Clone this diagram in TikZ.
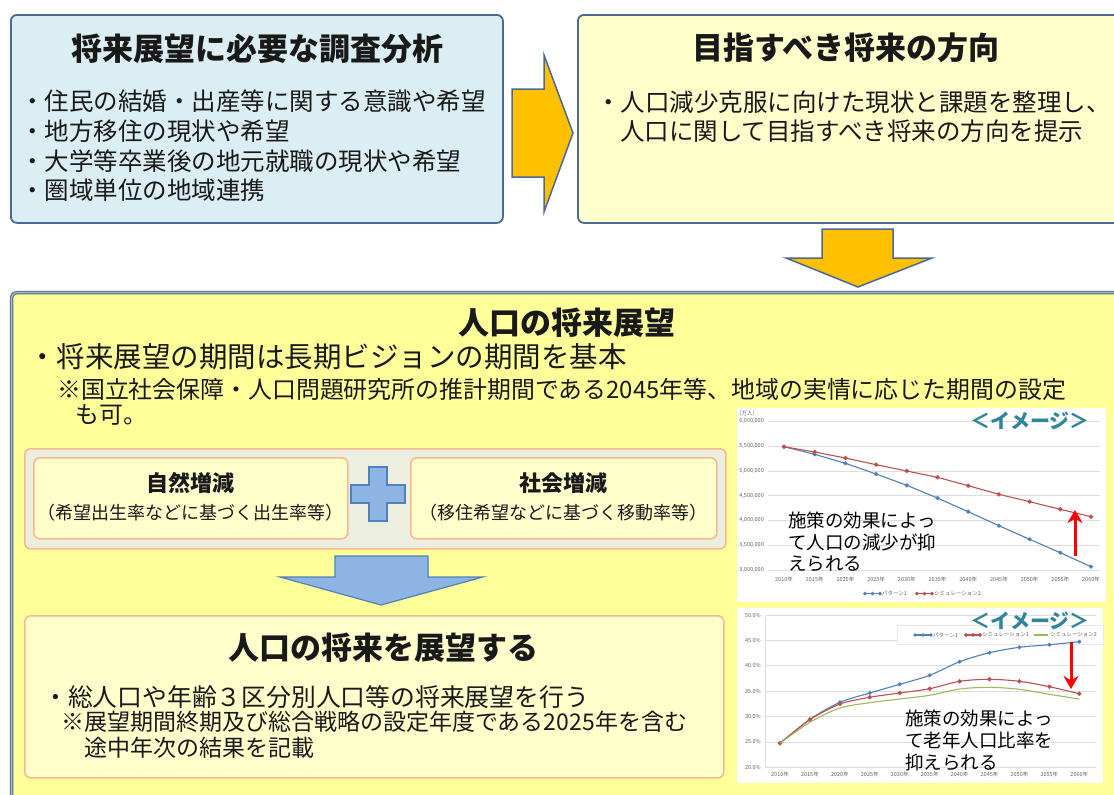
\documentclass[tikz,border=0pt]{standalone}
\usepackage{fontspec}
\setmainfont{Noto Sans CJK JP}
\usetikzlibrary{arrows.meta}
\definecolor{boxblue}{RGB}{219,238,244}
\definecolor{boxedge}{RGB}{75,105,150}
\definecolor{paleyellow}{RGB}{255,255,204}
\definecolor{bigyellow}{RGB}{255,255,153}
\definecolor{bigedge}{RGB}{100,118,148}
\definecolor{bigedgein}{RGB}{170,182,200}
\definecolor{panelgrey}{RGB}{236,238,224}
\definecolor{salmon}{RGB}{248,185,145}
\definecolor{arrowyellow}{RGB}{255,192,0}
\definecolor{plusblue}{RGB}{141,180,226}
\definecolor{plusedge}{RGB}{79,129,189}
\definecolor{teal}{RGB}{49,133,155}
\definecolor{serblue}{RGB}{79,129,189}
\definecolor{serred}{RGB}{192,80,77}
\definecolor{sergreen}{RGB}{155,187,89}
\definecolor{gridgrey}{RGB}{222,222,222}
\definecolor{labgrey}{RGB}{100,100,100}
\definecolor{txt}{RGB}{25,25,25}
\begin{document}
\begin{tikzpicture}[x=1pt,y=-1pt,
  panel/.style={draw=boxedge, line width=1.8pt, rounded corners=6pt, inner sep=0pt, anchor=north west},
  bigbox/.style={draw=bigedge, line width=1.2pt, double=bigedgein, double distance=1.2pt, fill=bigyellow, rounded corners=5pt, inner sep=0pt, anchor=north west},
  subbox/.style={draw=salmon, line width=1.6pt, rounded corners=6pt, inner sep=0pt, anchor=north west},
  title/.style={font=\fontsize{31}{36}\selectfont\bfseries, text=txt, inner sep=0pt},
  subtitle/.style={font=\fontsize{22}{26}\selectfont\bfseries, text=txt, inner sep=0pt},
  bul/.style={font=\fontsize{24.5}{29}\selectfont, text=txt, inner sep=0pt, anchor=west},
  note/.style={font=\fontsize{18}{22}\selectfont, text=txt, inner sep=0pt},
  charttext/.style={font=\fontsize{18.5}{22}\selectfont, text=black, inner sep=0pt, anchor=west},
  imagelabel/.style={font=\fontsize{20}{24}\selectfont\bfseries, text=teal, inner sep=0pt},
  tiny/.style={font=\fontsize{5.5}{6}\selectfont, text=labgrey, inner sep=0pt},
  blockarrow/.style={fill=arrowyellow, draw=boxedge, line width=1.5pt, line join=miter},
  bluearrow/.style={fill=plusblue, draw=plusedge, line width=1.2pt, line join=miter},
  grid/.style={draw=gridgrey, line width=0.6pt},
  serline/.style={line width=1.1pt},
  redarrow/.style={draw=red, line width=3pt, -{Stealth[length=13pt,width=15pt]}}
]
\clip (0,0) rectangle (1114,795);
\fill[white] (0,0) rectangle (1114,795);

% ---------- top left box ----------
\node[panel, fill=boxblue, minimum width=492pt, minimum height=208pt] (survey) at (10,14) {};
\node[title] (surveyT) at (257,49) {将来展望に必要な調査分析};
\node[bul] (s1) at (20,101) {・住民の結婚・出産等に関する意識や希望};
\node[bul] (s2) at (20,131) {・地方移住の現状や希望};
\node[bul] (s3) at (20,161) {・大学等卒業後の地元就職の現状や希望};
\node[bul] (s4) at (20,190) {・圏域単位の地域連携};

% ---------- right arrow ----------
\path[blockarrow] (512,89) -- (544,89) -- (544,55) -- (573,133) -- (544,212) -- (544,177) -- (512,177) -- cycle;

% ---------- top right box ----------
\node[panel, fill=paleyellow, minimum width=560pt, minimum height=208pt] (direction) at (577,14) {};
\node[title] (directionT) at (846,48) {目指すべき将来の方向};
\node[bul] (d1) at (596,102) {・人口減少克服に向けた現状と課題を整理し、};
\node[bul] (d2) at (620,131) {人口に関して目指すべき将来の方向を提示};

% ---------- down arrow ----------
\path[blockarrow] (822,229) -- (893,229) -- (893,258) -- (932,258) -- (858,287) -- (786,258) -- (822,258) -- cycle;

% ---------- big box ----------
\node[bigbox, minimum width=1140pt, minimum height=540pt] (outlook) at (11,292) {};
\node[title] (outlookT) at (567,323) {人口の将来展望};
\node[bul, font=\fontsize{28.5}{33}\selectfont] (o1) at (28,357) {・将来展望の期間は長期ビジョンの期間を基本};
\node[bul, font=\fontsize{23.9}{28}\selectfont] (o2) at (57,389) {※国立社会保障・人口問題研究所の推計期間である2045年等、地域の実情に応じた期間の設定};
\node[bul, font=\fontsize{23.9}{28}\selectfont] (o3) at (75,415) {も可。};

% ---------- natural / social change ----------
\node[subbox, fill=panelgrey, rounded corners=5pt, minimum width=701pt, minimum height=100pt] (change) at (24,448) {};
\node[subbox, fill=paleyellow, minimum width=314pt, minimum height=81pt] (natural) at (33,457) {};
\node[subbox, fill=paleyellow, minimum width=306pt, minimum height=81pt] (social) at (410,457) {};
\node[subtitle] (naturalT) at (190,483) {自然増減};
\node[note] (naturalN) at (190,513) {（希望出生率などに基づく出生率等）};
\node[subtitle] (socialT) at (563,483) {社会増減};
\node[note] (socialN) at (563,513) {（移住希望などに基づく移動率等）};
\path[bluearrow] (369,467) -- (387,467) -- (387,485) -- (405,485) -- (405,503) -- (387,503) -- (387,521) -- (369,521) -- (369,503) -- (351,503) -- (351,485) -- (369,485) -- cycle;

% ---------- blue arrow ----------
\path[bluearrow] (335,556) -- (428,556) -- (428,577) -- (483,577) -- (381,605) -- (280,577) -- (335,577) -- cycle;

% ---------- projection box ----------
\node[subbox, fill=paleyellow, minimum width=699pt, minimum height=162pt] (project) at (24,615) {};
\node[title] (projectT) at (383,648) {人口の将来を展望する};
\node[bul, font=\fontsize{24.8}{29}\selectfont] (p1) at (43,697) {・総人口や年齢３区分別人口等の将来展望を行う};
\node[bul, font=\fontsize{23}{27}\selectfont] (p2) at (61,722) {※展望期間終期及び総合戦略の設定年度である2025年を含む};
\node[bul, font=\fontsize{23}{27}\selectfont] (p3) at (84,748) {途中年次の結果を記載};

% ---------- chart 1 ----------
\fill[white] (737,408) rectangle (1106,602);
\foreach \v/\lab [count=\i from 0] in {6/6{,}000{,}000,5.5/5{,}500{,}000,5/5{,}000{,}000,4.5/4{,}500{,}000,4/4{,}000{,}000,3.5/3{,}500{,}000,3/3{,}000{,}000}{
  \draw[grid] (768,421.5+24.75*\i) -- (1100,421.5+24.75*\i);
  \node[tiny, anchor=east] (ya\i) at (764,421.5+24.75*\i) {\lab};
}
\node[tiny, anchor=west] (yunit) at (736,413) {（万人）};
\foreach \yr [count=\i from 0] in {2010,2015,2020,2025,2030,2035,2040,2045,2050,2055,2060}{
  \node[tiny] (xa\i) at (784+30.7*\i,579.5) {\yr 年};
}
\draw[serline, serblue] plot[mark=*, mark size=1.5pt] coordinates {(784.0,446.7) (814.7,454.3) (845.4,463.3) (876.1,474.0) (906.8,485.3) (937.5,498.0) (968.2,511.7) (998.9,525.7) (1029.6,539.3) (1060.3,552.7) (1091.0,566.7)};
\draw[serline, serred] plot[mark=*, mark size=1.6pt] coordinates {(784.0,446.7) (814.7,452.0) (845.4,458.0) (876.1,464.7) (906.8,471.0) (937.5,477.3) (968.2,485.7) (998.9,494.3) (1029.6,501.7) (1060.3,509.3) (1091.0,516.7)};
\draw[serline, serblue] plot[mark=*, mark size=1.2pt] coordinates {(865,593.7) (872.5,593.7) (880,593.7)};
\node[tiny, anchor=west] (lg1a) at (882,593.7) {パターン1};
\draw[serline, serred] plot[mark=*, mark size=1.2pt] coordinates {(917,593.7) (924.5,593.7) (932,593.7)};
\node[tiny, anchor=west] (lg1b) at (934,593.7) {シミュレーション2};
\node[imagelabel] (img1) at (1030,421) {＜イメージ＞};
\node[charttext] (c1a) at (788,520) {施策の効果によっ};
\node[charttext] (c1b) at (788,542) {て人口の減少が抑};
\node[charttext] (c1c) at (788,564) {えられる};
\coordinate (r1s) at (1075,556);
\coordinate (r1e) at (1075,510);
\draw[redarrow] (r1s) -- (r1e);

% ---------- chart 2 ----------
\fill[white] (737,608) rectangle (1103,783);
\foreach \lab [count=\i from 0] in {50.0\%,45.0\%,40.0\%,35.0\%,30.0\%,25.0\%,20.0\%}{
  \draw[grid] (765,615+25.38*\i) -- (1096,615+25.38*\i);
  \node[tiny, anchor=east] (yb\i) at (761,615+25.38*\i) {\lab};
}
\draw[grid] (765,615) -- (765,767.3);
\foreach \yr [count=\i from 0] in {2010,2015,2020,2025,2030,2035,2040,2045,2050,2055,2060}{
  \node[tiny] (xb\i) at (780+29.93*\i,774) {\yr 年};
}
\draw[draw=gridgrey!70, fill=white, line width=0.4pt] (897,625) rectangle (1103,644);
\draw[serline, serblue] plot[smooth, mark=*, mark size=1.4pt] coordinates {(780,743.3) (809.9,719.3) (839.9,702.3) (869.8,693) (899.7,684.3) (929.7,675.3) (959.6,661.7) (989.5,652.7) (1019.4,647.3) (1049.4,644.7) (1079.3,641.7)};
\draw[serline, serred] plot[smooth, mark=*, mark size=1.6pt] coordinates {(780,743.3) (809.9,719.7) (839.9,704) (869.8,697.3) (899.7,693) (929.7,688.7) (959.6,681.3) (989.5,679.3) (1019.4,681.3) (1049.4,686.7) (1079.3,693.7)};
\draw[serline, sergreen] plot[smooth, mark=triangle*, mark size=1.7pt] coordinates {(780,743.3) (809.9,722.3) (839.9,708) (869.8,702.7) (899.7,699) (929.7,695.3) (959.6,689) (989.5,687.3) (1019.4,689.3) (1049.4,694.3) (1079.3,699)};
\draw[serline, serblue] plot[mark=*, mark size=1.1pt] coordinates {(915,635) (923,635) (931,635)};
\node[tiny, anchor=west] (lg2a) at (933,635) {パターン1};
\draw[serline, serred] plot[mark=*, mark size=1.3pt] coordinates {(966,635) (973,635) (980,635)};
\node[tiny, anchor=west] (lg2b) at (982,635) {シミュレーション1};
\draw[serline, sergreen] plot[mark=triangle*, mark size=1.3pt] coordinates {(1034,635) (1041,635) (1048,635)};
\node[tiny, anchor=west] (lg2c) at (1050,635) {シミュレーション2};
\node[imagelabel] (img2) at (1030,621) {＜イメージ＞};
\node[charttext] (c2a) at (905,718) {施策の効果によっ};
\node[charttext] (c2b) at (905,740) {て老年人口比率を};
\node[charttext] (c2c) at (905,762) {抑えられる};
\coordinate (r2s) at (1071,642);
\coordinate (r2e) at (1071,689);
\draw[redarrow] (r2s) -- (r2e);
\end{tikzpicture}
\end{document}
